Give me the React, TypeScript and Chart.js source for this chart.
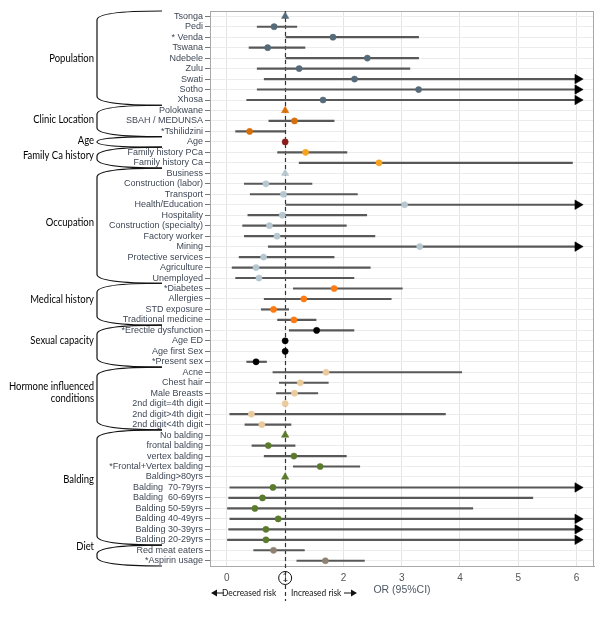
import { useEffect, useRef } from "react";
import { Chart, registerables } from "chart.js";
Chart.register(...registerables);

// ---------- DATA ----------
const categories = [
  "Tsonga", "Pedi", "* Venda", "Tswana", "Ndebele", "Zulu", "Swati", "Sotho", "Xhosa",
  "Polokwane", "SBAH / MEDUNSA", "*Tshilidzini",
  "Age",
  "Family history PCa", "Family history Ca",
  "Business", "Construction (labor)", "Transport", "Health/Education", "Hospitality",
  "Construction (specialty)", "Factory worker", "Mining", "Protective services", "Agriculture", "Unemployed",
  "*Diabetes", "Allergies", "STD exposure", "Traditional medicine",
  "*Erectile dysfunction", "Age ED", "Age first Sex", "*Present sex",
  "Acne", "Chest hair", "Male Breasts", "2nd digit=4th digit", "2nd digit>4th digit", "2nd digit<4th digit",
  "No balding", "frontal balding", "vertex balding", "*Frontal+Vertex balding", "Balding>80yrs",
  "Balding  70-79yrs", "Balding  60-69yrs", "Balding 50-59yrs", "Balding 40-49yrs", "Balding 30-39yrs", "Balding 20-29yrs",
  "Red meat eaters", "*Aspirin usage",
];

const oddsRatio = [
  1, 0.81, 1.82, 0.70, 2.41, 1.24, 2.19, 3.29, 1.65,
  1, 1.16, 0.39,
  1,
  1.35, 2.61,
  1, 0.67, 0.97, 3.05, 0.95, 0.73, 0.86, 3.31, 0.63, 0.50, 0.55,
  1.84, 1.32, 0.80, 1.15,
  1.54, 1, 1, 0.50,
  1.70, 1.26, 1.16, 1, 0.42, 0.60,
  1, 0.71, 1.15, 1.60, 1, 0.79, 0.61, 0.48, 0.88, 0.67, 0.67,
  0.80, 1.69,
];

const ciLow = [
  null, 0.52, 1.01, 0.38, 1.01, 0.52, 0.64, 0.52, 0.34,
  null, 0.72, 0.15,
  null,
  0.87, 1.24,
  null, 0.30, 0.40, 1.01, 0.36, 0.27, 0.30, 0.71, 0.21, 0.09, 0.15,
  1.14, 0.64, 0.59, 0.87,
  1.07, null, null, 0.34,
  0.79, 0.90, 0.85, null, 0.05, 0.31,
  null, 0.43, 0.64, 1.14, null, 0.05, 0.03, 0.01, 0.05, 0.03, 0.01,
  0.46, 1.20,
];

// null upper bound with a lower bound = CI runs beyond the axis (arrow)
const ciHigh = [
  null, 1.20, 3.29, 1.34, 3.29, 3.14, null, null, null,
  null, 1.84, 0.99,
  null,
  2.06, 5.93,
  null, 1.46, 2.24, null, 2.40, 2.05, 2.54, null, 1.84, 2.46, 2.18,
  3.01, 2.82, 1.06, 1.53,
  2.18, null, null, 0.68,
  4.03, 1.74, 1.56, null, 3.75, 1.10,
  null, 1.17, 2.05, 2.28, null, null, 5.25, 4.22, null, null, null,
  1.33, 2.36,
];

const referenceRows = ["Tsonga", "Polokwane", "Business", "No balding", "Balding>80yrs"];

const groupNames = [
  "Population", "Clinic Location", "Age", "Family Ca history", "Occupation",
  "Medical history", "Sexual capacity", "Hormone influenced\nconditions", "Balding", "Diet",
];
const groupSizes = [9, 3, 1, 2, 11, 4, 4, 6, 11, 2];
const groupColors = [
  "#566B79", "#D8700A", "#8A1C1C", "#F8A31C", "#B7C7D0",
  "#FF7A10", "#000000", "#EBCB9E", "#5A7A2C", "#8F8272",
];

const xTicks = [0, 1, 2, 3, 4, 5, 6];
const AXIS_MIN = -0.29;
const AXIS_MAX = 6.3;
const ARROW_AT = 6.02;

export default function App() {
  const ref = useRef<HTMLCanvasElement>(null);

  useEffect(() => {
    const rowColors: string[] = [];
    groupSizes.forEach((n, g) => {
      for (let k = 0; k < n; k++) rowColors.push(groupColors[g]);
    });
    const isRef = categories.map((c) => referenceRows.includes(c));
    const open = categories.map((_, i) => ciLow[i] != null && ciHigh[i] == null);

    const overlay = {
      id: "overlay",
      beforeDatasetsDraw(chart: any) {
        const { ctx, chartArea, scales } = chart;
        const x = scales.x;
        ctx.save();
        ctx.strokeStyle = "#A8A8A8";
        ctx.lineWidth = 1;
        ctx.strokeRect(chartArea.left + 0.5, chartArea.top + 0.5, chartArea.right - chartArea.left - 1, chartArea.bottom - chartArea.top);
        const px = Math.round(x.getPixelForValue(1)) + 0.5;
        ctx.strokeStyle = "#333";
        ctx.lineWidth = 1.2;
        ctx.setLineDash([4, 3]);
        ctx.beginPath();
        ctx.moveTo(px, chartArea.top);
        ctx.lineTo(px, 601);
        ctx.stroke();
        ctx.restore();
      },
      afterDraw(chart: any) {
        const { ctx, chartArea, scales } = chart;
        const x = scales.x;
        const y = scales.y;
        ctx.save();
        // circle around "1"
        const px = x.getPixelForValue(1);
        ctx.strokeStyle = "#111";
        ctx.lineWidth = 1;
        ctx.beginPath();
        ctx.arc(px, chartArea.bottom + 12, 6.5, 0, Math.PI * 2);
        ctx.stroke();

        // axis title
        ctx.fillStyle = "#4F5864";
        ctx.font = "10.5px 'Liberation Sans', Arial, sans-serif";
        ctx.textAlign = "center";
        ctx.textBaseline = "middle";
        ctx.fillText("OR (95%CI)", (chartArea.left + chartArea.right) / 2, 590);

        // risk annotations
        ctx.fillStyle = "#111";
        ctx.strokeStyle = "#111";
        ctx.font = "10px Lato, sans-serif";
        ctx.textAlign = "left";
        const ay = 593;
        const decW = ctx.measureText("Decreased risk").width * 0.84;
        ctx.fillText("Decreased risk", 222, ay, decW);
        ctx.beginPath();
        ctx.moveTo(224, ay);
        ctx.lineTo(214, ay);
        ctx.stroke();
        ctx.beginPath();
        ctx.moveTo(211, ay);
        ctx.lineTo(217, ay - 3.5);
        ctx.lineTo(217, ay + 3.5);
        ctx.closePath();
        ctx.fill();
        const incW = ctx.measureText("Increased risk").width * 0.84;
        ctx.fillText("Increased risk", 291, ay, incW);
        ctx.beginPath();
        ctx.moveTo(344, ay);
        ctx.lineTo(353, ay);
        ctx.stroke();
        ctx.beginPath();
        ctx.moveTo(357, ay);
        ctx.lineTo(351, ay - 3.5);
        ctx.lineTo(351, ay + 3.5);
        ctx.closePath();
        ctx.fill();

        // group braces
        const rowH = y.getPixelForValue(1) - y.getPixelForValue(0);
        const xL = 97;
        const xR = 162;
        let start = 0;
        ctx.strokeStyle = "#111";
        ctx.lineWidth = 1.2;
        ctx.font = "11px Lato, sans-serif";
        ctx.textAlign = "right";
        ctx.textBaseline = "middle";
        ctx.fillStyle = "#000";
        groupSizes.forEach((n, g) => {
          const top = y.getPixelForValue(start) - rowH / 2;
          const bottom = y.getPixelForValue(start + n - 1) + rowH / 2;
          const r = Math.min(9, (bottom - top) / 2);
          ctx.beginPath();
          ctx.moveTo(xR, top);
          ctx.bezierCurveTo(xL + 22, top, xL, top + r * 0.35, xL, top + r);
          ctx.lineTo(xL, bottom - r);
          ctx.bezierCurveTo(xL, bottom - r * 0.35, xL + 22, bottom, xR, bottom);
          ctx.stroke();
          const mid = (top + bottom) / 2;
          const ly = mid - (mid - 60) * 0.018;
          const lines = groupNames[g].split("\n");
          lines.forEach((t, k) => {
            const w = ctx.measureText(t).width * 0.86;
            ctx.fillText(t, 94, ly + (k - (lines.length - 1) / 2) * 12.5, w);
          });
          start += n;
        });
        ctx.restore();
      },
    };

    const chart = new Chart(ref.current!, {
      type: "bar",
      data: {
        labels: categories,
        datasets: [
          {
            type: "line",
            data: categories.map((c, i) => ({ x: oddsRatio[i], y: c })),
            showLine: false,
            pointStyle: isRef.map((r) => (r ? "triangle" : "circle")),
            pointRadius: isRef.map((r) => (r ? 4.3 : 3.1)),
            pointBackgroundColor: rowColors,
            pointBorderColor: rowColors,
            pointBorderWidth: 0.5,
            order: 0,
          } as any,
          {
            type: "line",
            data: categories
              .map((c, i) => (open[i] ? { x: ARROW_AT, y: c } : null))
              .filter((d) => d !== null),
            showLine: false,
            pointStyle: "triangle",
            rotation: 90,
            pointRadius: 5.5,
            pointBackgroundColor: "#000",
            pointBorderColor: "#000",
            pointBorderWidth: 0.5,
            order: 1,
          } as any,
          {
            type: "bar",
            data: categories.map((_, i) =>
              ciLow[i] == null ? null : [ciLow[i], open[i] ? ARROW_AT : ciHigh[i]]
            ),
            backgroundColor: "#585858",
            borderWidth: 0,
            barThickness: 1.5,
            order: 2,
          } as any,
        ],
      },
      options: {
        animation: false,
        responsive: false,
        devicePixelRatio: 1,
        indexAxis: "y",
        layout: { padding: { top: 11, right: 6, left: 0, bottom: 0 } },
        plugins: { legend: { display: false }, tooltip: { enabled: false } },
        scales: {
          x: {
            type: "linear",
            min: AXIS_MIN,
            max: AXIS_MAX,
            afterFit: (s: any) => {
              s.height = 52;
            },
            afterBuildTicks: (s: any) => {
              s.ticks = xTicks.map((v) => ({ value: v }));
            },
            ticks: {
              includeBounds: false,
              color: "#555",
              padding: 6,
              font: { size: 10, family: "'Liberation Sans', Arial, sans-serif" },
            },
            grid: { color: "#E4E4E4", drawTicks: false },
            border: { display: true, color: "#A8A8A8" },
          },
          y: {
            type: "category",
            offset: true,
            afterFit: (s: any) => {
              s.width = 210;
            },
            ticks: {
              autoSkip: false,
              color: "#3F4856",
              padding: 2,
              font: { size: 9, family: "'Liberation Sans', Arial, sans-serif" },
            },
            grid: { color: "#ECECEC", offset: false, tickLength: 5, tickColor: "#777" },
            border: { display: true, color: "#A8A8A8" },
          },
        },
      },
      plugins: [overlay],
    } as any);
    return () => chart.destroy();
  }, []);

  return (
    <div style={{ position: "absolute", left: 0, top: 0, width: 600, height: 618, background: "#fff" }}>
      <canvas ref={ref} width={600} height={618} />
    </div>
  );
}
